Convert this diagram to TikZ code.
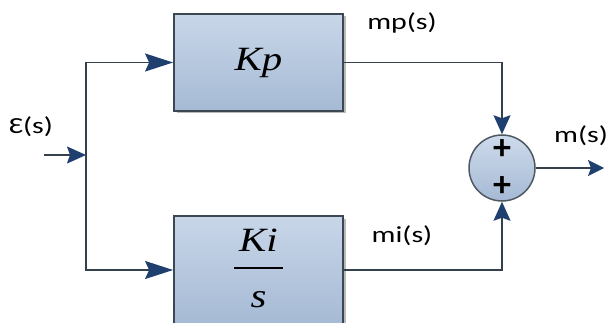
\documentclass[tikz,border=0pt]{standalone}
\usepackage{fontspec}
\setmainfont{Carlito}
\newfontfamily\boxfont{Liberation Serif}
\usetikzlibrary{arrows.meta,shadows}
\definecolor{linec}{HTML}{34404C}
\definecolor{tipc}{HTML}{1F3F6F}
\definecolor{boxtop}{HTML}{C8D6E8}
\definecolor{boxbot}{HTML}{A6BAD5}
\definecolor{boxborder}{HTML}{3B4752}
\newcommand{\lbltext}[1]{\scalebox{1.3}[1]{\fontsize{23}{26}\selectfont #1}}
\newcommand{\boxtext}[1]{\scalebox{1.2}[1]{\fontsize{34}{40}\selectfont\boxfont\itshape #1}}
\tikzset{
  blockbox/.style={draw=boxborder, line width=1.8pt, top color=boxtop, bottom color=boxbot,
    minimum width=169pt, inner sep=0pt,
    drop shadow={shadow xshift=2.5pt, shadow yshift=-2.5pt, opacity=.45, fill=black!60}},
  sumcirc/.style={circle, draw=boxborder!90, line width=1.5pt, top color=boxtop!90!white, bottom color=boxbot,
    minimum size=66pt, inner sep=0pt},
  conn/.style={draw=linec, line width=1.5pt},
  bigtip/.style={-{Stealth[length=28pt,width=18pt,inset=4pt,color=tipc]}},
  midtip/.style={-{Stealth[length=19pt,width=17pt,inset=3pt,color=tipc]}},
  smalltip/.style={-{Stealth[length=16pt,width=16pt,inset=3pt,color=tipc]}},
  lbl/.style={inner sep=0pt, text=black},
  plussign/.style={inner sep=0pt, font=\fontsize{36}{38}\selectfont\bfseries}
}
\begin{document}
\begin{tikzpicture}[x=1pt,y=-1pt]
\useasboundingbox (0,0) rectangle (609,323);
% blocks
\node[blockbox, minimum height=97pt] (kp) at (258.5,62.5) {\boxtext{Kp}};
\node[blockbox, minimum height=108pt] (ki) at (258.5,270)
  {\raisebox{3pt}{\vbox{\hbox to 49pt{\hss\boxtext{Ki}\hss}\kern15pt
     \hrule height 2pt\kern23pt
     \hbox to 49pt{\hss\boxtext{s}\hss}}}};
% summing junction
\node[sumcirc] (sum) at (502,168) {};
\node[plussign] (p1) at (502,150) {+};
\node[plussign] (p2) at (502,187) {+};
% connection points
\coordinate (in) at (44,155);
\coordinate (j) at (86,155);
\coordinate (out) at (604,168);
% connectors
\draw[conn, midtip] (in) -- (j);
\draw[conn, bigtip] (j) |- (kp.west);
\draw[conn, bigtip] (j) |- (ki.west);
\draw[conn, midtip] (kp.east) -| (sum.north);
\draw[conn, midtip] (ki.east) -| (sum.south);
\draw[conn, smalltip] (sum.east) -- (out);
% labels
\node[lbl] (leps) at (31,127) {\lbltext{Ɛ(s)}};
\node[lbl] (lmp) at (402,23) {\lbltext{mp(s)}};
\node[lbl] (lmi) at (402,236) {\lbltext{mi(s)}};
\node[lbl] (lm) at (581,136) {\lbltext{m(s)}};
\end{tikzpicture}
\end{document}
